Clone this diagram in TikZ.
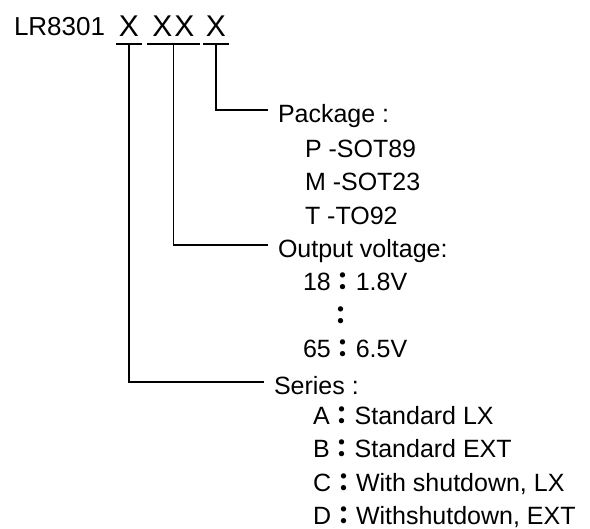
\documentclass[tikz,border=0pt]{standalone}
\usepackage{fontspec}
\setmainfont{Liberation Sans}
\newfontfamily\cjk{Noto Sans CJK TC}
\newcommand{\fc}{{\cjk\bfseries ：}}

\begin{document}
\begin{tikzpicture}[x=1pt, y=-1pt,
    every node/.style={font=\fontsize{25}{29}\selectfont, inner sep=0pt, outer sep=0pt},
    xbox/.style={font=\fontsize{30}{34}\selectfont, anchor=base, inner xsep=0pt, inner ysep=7pt, text depth=0pt},
    head/.style={anchor=west, inner xsep=10pt, text height=26pt, text depth=0pt},
    item/.style={anchor=base west},
    link/.style={line width=1.5pt}]
    \useasboundingbox (0,0) rectangle (590,529);

    % Part number
    \node[anchor=base west, font=\fontsize{26}{30}\selectfont] (part) at (14,36) {LR8301};
    \node[xbox, minimum width=26pt] (x1) at (129,37) {X};
    \node[xbox, minimum width=53pt] (x2) at (173.5,37) {X\kern2pt X};
    \node[xbox, minimum width=26pt] (x3) at (216,37) {X};
    \draw[link] (x1.south west) -- (x1.south east);
    \draw[link] (x2.south west) -- (x2.south east);
    \draw[link] (x3.south west) -- (x3.south east);

    % Package
    \node[head] (pkg) at (268,110) {Package :};
    \node[item] (pkgP) at (305,157.4) {P -SOT89};
    \node[item] (pkgM) at (305,190.8) {M -SOT23};
    \node[item] (pkgT) at (305,224.2) {T -TO92};

    % Output voltage
    \node[head] (out) at (268,245) {Output voltage:};
    \node[item] (out18) at (303,291) {18\fc 1.8V};
    \node[anchor=base] (outdots) at (341,324.4) {\fc};
    \node[item] (out65) at (303,357.8) {65\fc 6.5V};

    % Series
    \node[head] (ser) at (264,382) {Series :};
    \node[item] (serA) at (313,424.6) {A\fc Standard LX};
    \node[item] (serB) at (313,458) {B\fc Standard EXT};
    \node[item] (serC) at (313,491.4) {C\fc With shutdown, LX};
    \node[item] (serD) at (313,524.8) {D\fc Withshutdown, EXT};

    % Connectors
    \draw[link] (x3.south) |- (pkg.west);
    \draw[link] (x2.south) |- (out.west);
    \draw[link] (x1.south) |- (ser.west);
\end{tikzpicture}
\end{document}
